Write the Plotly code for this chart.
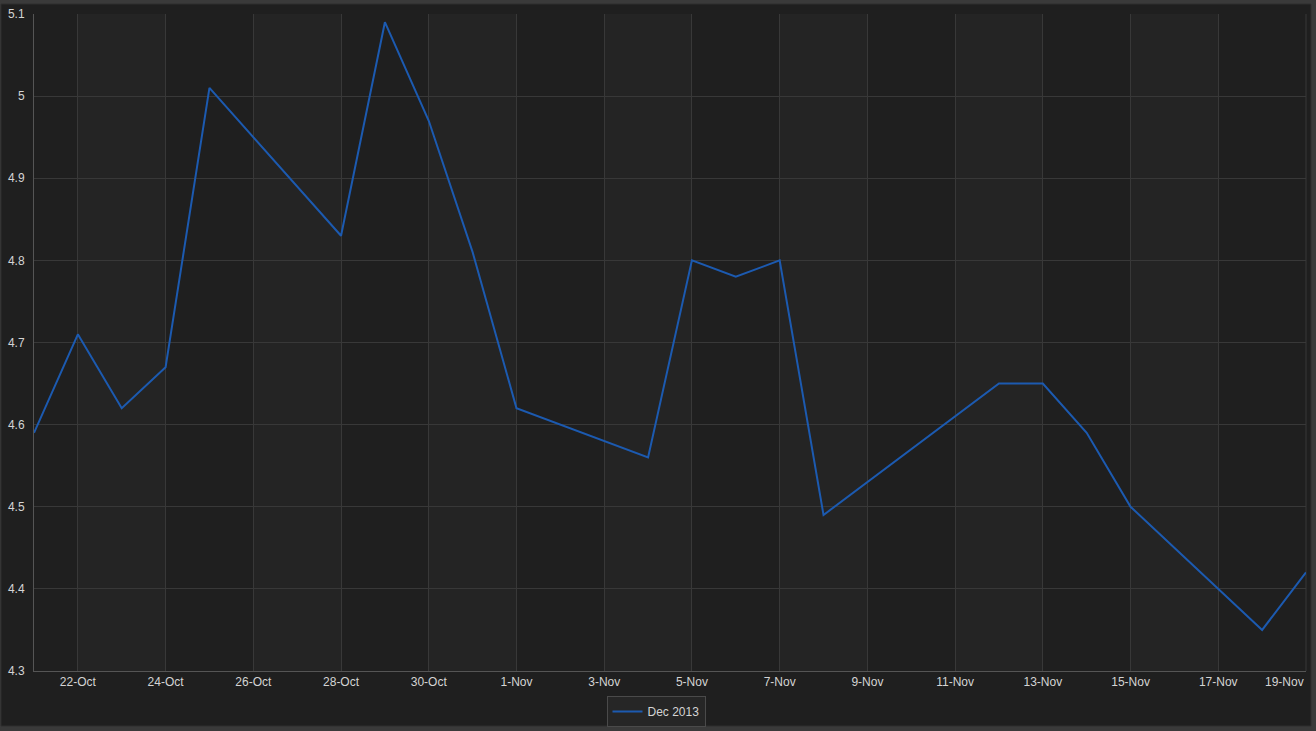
import plotly.graph_objects as go
from datetime import date, timedelta

# ---- data ----
dates = ['2013-10-21', '2013-10-22', '2013-10-23', '2013-10-24', '2013-10-25',
         '2013-10-28', '2013-10-29', '2013-10-30', '2013-10-31', '2013-11-01',
         '2013-11-04', '2013-11-05', '2013-11-06', '2013-11-07', '2013-11-08',
         '2013-11-11', '2013-11-12', '2013-11-13', '2013-11-14', '2013-11-15',
         '2013-11-18', '2013-11-19']
values = [4.59, 4.71, 4.62, 4.67, 5.01,
          4.83, 5.09, 4.97, 4.81, 4.62,
          4.56, 4.80, 4.78, 4.80, 4.49,
          4.61, 4.65, 4.65, 4.59, 4.50,
          4.35, 4.42]
series_name = 'Dec 2013'
x_start = '2013-10-21'
x_end = '2013-11-19'
y_min, y_max, y_step = 4.3, 5.1, 0.1

# tick dates every 2 days from 22-Oct
tick_dates = []
d = date(2013, 10, 22)
while d <= date(2013, 11, 19):
    tick_dates.append(d)
    d += timedelta(days=2)
tick_vals = [t.isoformat() for t in tick_dates]
tick_text = [f"{t.day}-{t.strftime('%b')}" for t in tick_dates]

# ---- layout geometry (pixels) ----
W, H = 1316, 731
ML, MR, MT, MB = 34, 10, 14, 60
PW, PH = W - ML - MR, H - MT - MB


def px_x(p):
    return (p - ML) / PW


def px_y(p):
    return (H - MB - p) / PH


LINE_COLOR = '#1c5ab0'
TEXT_COLOR = '#d4d4d4'
GRID_COLOR = '#383838'
AXIS_COLOR = '#555555'
PANEL = '#1f1f1f'
BAND = '#242424'
FONT = 'Liberation Sans, Arial, sans-serif'

fig = go.Figure()
fig.add_trace(go.Scatter(
    x=dates, y=values, mode='lines', name=series_name,
    line=dict(color=LINE_COLOR, width=2),
))

shapes = [
    dict(type='rect', xref='paper', yref='paper', layer='below',
         x0=px_x(1), x1=px_x(1311), y0=px_y(726), y1=px_y(4),
         fillcolor=PANEL, line=dict(color='#2e2e2e', width=1)),
]
# alternating lighter bands between ticks (22-24, 26-28, ...)
for i in range(0, len(tick_vals) - 1, 2):
    shapes.append(dict(type='rect', xref='x', yref='paper', layer='below',
                       x0=tick_vals[i], x1=tick_vals[i + 1], y0=0, y1=1,
                       fillcolor=BAND, line=dict(width=0)))

tick_text_axis = tick_text[:-1] + ['']

fig.update_layout(
    width=W, height=H,
    margin=dict(l=ML, r=MR, t=MT, b=MB, pad=0, autoexpand=False),
    paper_bgcolor='#3a3a3a',
    plot_bgcolor='rgba(0,0,0,0)',
    font=dict(family=FONT, size=12, color=TEXT_COLOR),
    shapes=shapes,
    showlegend=True,
    legend=dict(orientation='h', x=px_x(656), xanchor='center',
                y=px_y(696), yanchor='top',
                bgcolor='#262626', bordercolor='#4a4a4a', borderwidth=1,
                font=dict(family=FONT, size=12, color=TEXT_COLOR)),
    xaxis=dict(
        type='date', range=[x_start, x_end], automargin=False,
        tickmode='array', tickvals=tick_vals, ticktext=tick_text_axis,
        showgrid=True, gridcolor=GRID_COLOR, gridwidth=1,
        showline=True, linecolor=AXIS_COLOR, linewidth=1, mirror=False,
        ticks='', zeroline=False,
        tickfont=dict(family=FONT, size=12, color=TEXT_COLOR),
    ),
    yaxis=dict(
        range=[y_min, y_max], dtick=y_step, tick0=y_min, automargin=False,
        showgrid=True, gridcolor=GRID_COLOR, gridwidth=1,
        showline=True, linecolor=AXIS_COLOR, linewidth=1,
        ticks='', zeroline=False, ticklabelstandoff=6,
        tickfont=dict(family=FONT, size=12, color=TEXT_COLOR),
    ),
    annotations=[dict(x=tick_vals[-1], y=0, xref='x', yref='paper',
                      text=tick_text[-1], showarrow=False,
                      xanchor='right', yanchor='top', yshift=-2,
                      font=dict(family=FONT, size=12, color=TEXT_COLOR))],
)

# right border of plot
fig.add_shape(type='line', xref='paper', yref='paper', x0=1, x1=1, y0=0, y1=1,
              line=dict(color=GRID_COLOR, width=1), layer='below')

fig.write_html('out.html')
